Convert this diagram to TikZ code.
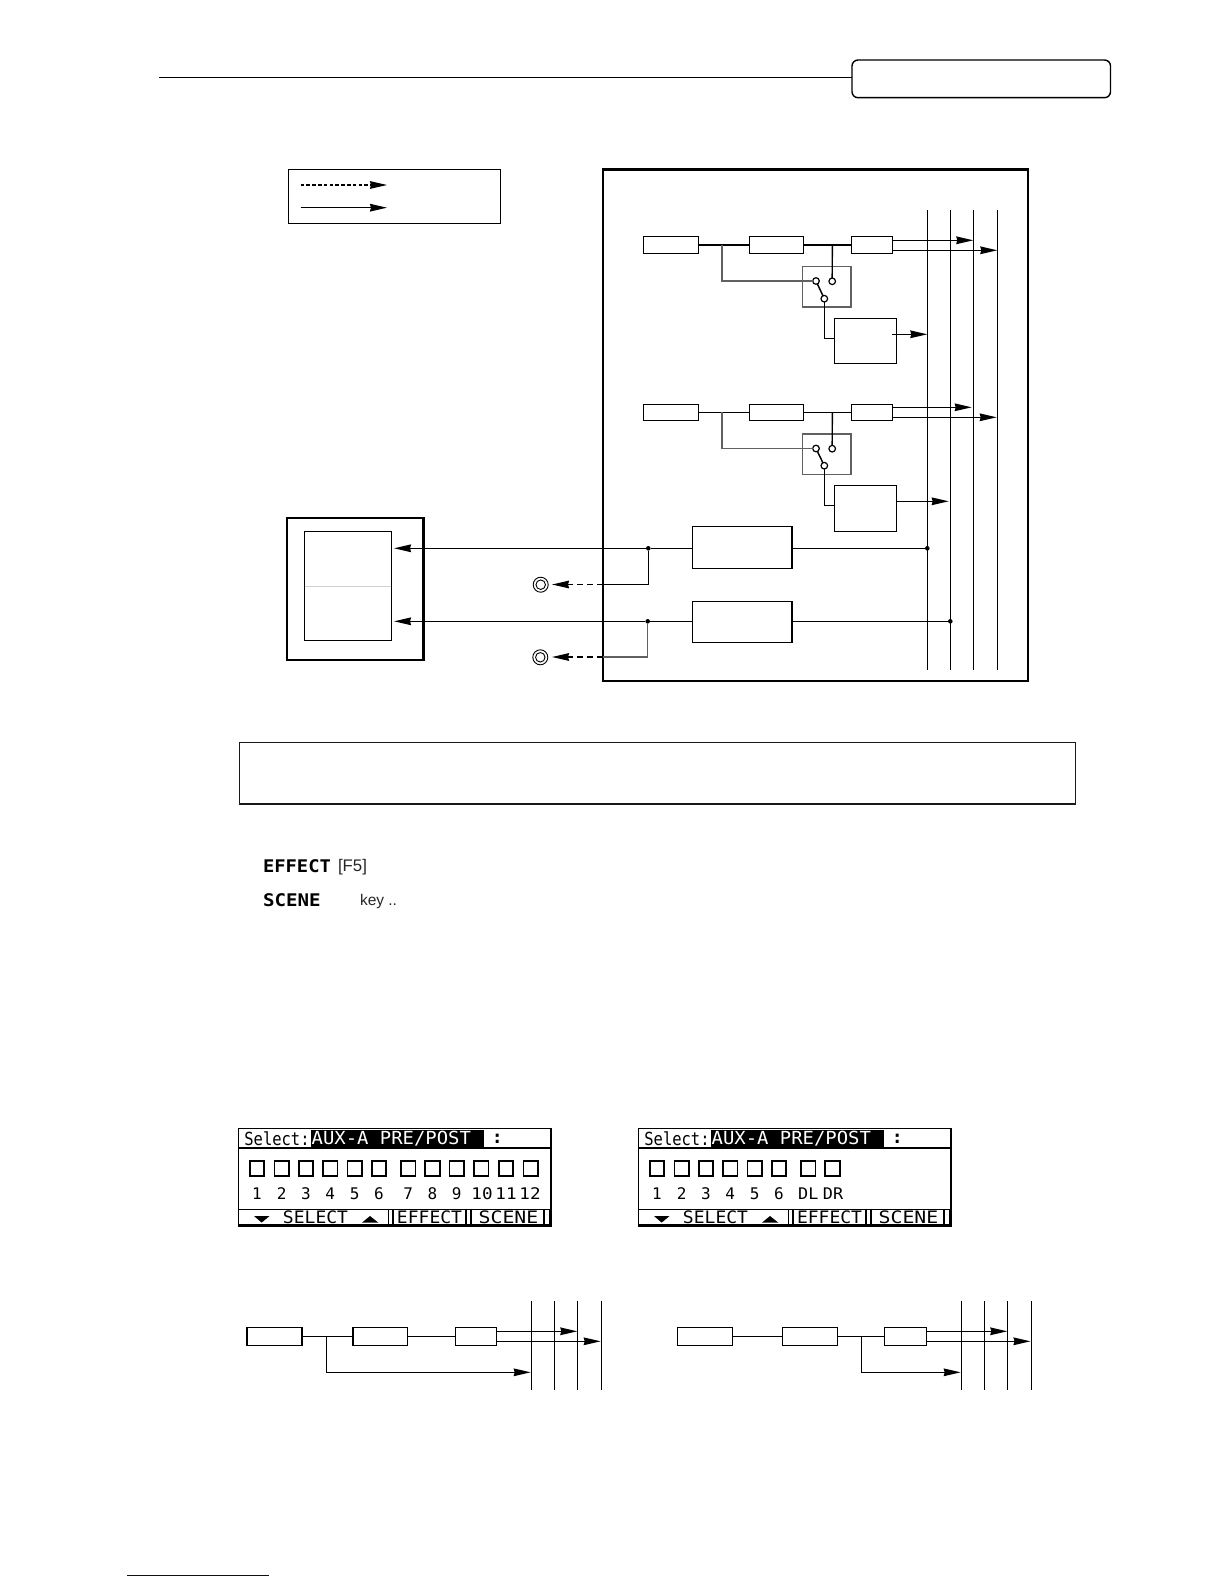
\documentclass[tikz,border=0pt]{standalone}
\usepackage{fontspec}
\usepackage{graphicx}
\setmainfont{Liberation Sans}
\newfontfamily\lcdfont{DejaVu Sans Mono}
\usetikzlibrary{arrows.meta}
\tikzset{
  px/.style={x=1pt,y=-1pt},
  wire/.style={line width=1.45pt,black},
  thinbus/.style={line width=1.25pt,black},
  graywire/.style={line width=1.5pt,black!62},
  arrowed/.style={wire,-{Stealth[length=17pt,width=7.6pt,inset=1pt]}},
  dasharrow/.style={arrowed,dash pattern=on 6pt off 4pt},
  legdash/.style={arrowed,line width=1.2pt,dash pattern=on 3.5pt off 2.3pt},
  blk/.style={draw=black,line width=1.4pt,fill=white,inner sep=0pt,outer sep=0pt},
  swbox/.style={draw=black!62,line width=1.5pt,fill=white,inner sep=0pt,outer sep=0pt},
  frameA/.style={draw=black,line width=2.4pt,inner sep=0pt,outer sep=0pt},
  terminal/.style={circle,draw=black,line width=1.2pt,fill=white,minimum size=6.6pt,inner sep=0pt,outer sep=0pt},
  junction/.style={circle,fill=black,minimum size=4.6pt,inner sep=0pt,outer sep=0pt},
  lcdtext/.style={font=\lcdfont\fontsize{18}{18}\selectfont,inner sep=0pt,outer sep=0pt,anchor=center},
  lcdnum/.style={font=\lcdfont\fontsize{16}{16}\selectfont,inner sep=0pt,outer sep=0pt,anchor=center},
  sq/.style={draw=black,line width=1.6pt,fill=white,minimum width=14.5pt,minimum height=15pt,inner sep=0pt,outer sep=0pt},
  keylabel/.style={font=\lcdfont\bfseries\fontsize{17.4}{17.4}\selectfont,inner sep=0pt,outer sep=0pt,anchor=west},
  plain/.style={font=\fontsize{15.5}{15.5}\selectfont,text=black!85,inner sep=0pt,outer sep=0pt,anchor=west},
}
% box by corners: name, x1, y1, x2, y2, style
\newcommand\cornerbox[6]{%
  \pgfmathsetmacro\bxw{#4-#2}\pgfmathsetmacro\bxh{#5-#3}%
  \pgfmathsetmacro\bxx{(#2+#4)/2}\pgfmathsetmacro\bxy{(#3+#5)/2}%
  \node[#6,minimum width=\bxw pt,minimum height=\bxh pt] (#1) at (\bxx,\bxy) {};}
% channel chain with switch
\newcommand\chainrow[6]{% prefix, boxtop, boxbot, wirey, swtop, swbot
  \cornerbox{#1a}{643.3}{#2}{698.7}{#3}{blk}
  \cornerbox{#1b}{749.3}{#2}{803.7}{#3}{blk}
  \cornerbox{#1c}{851.3}{#2}{892.7}{#3}{blk}
  \cornerbox{#1s}{802.7}{#5}{851}{#6}{swbox}
  \coordinate (#1t) at (722,#4);
  \coordinate (#1u) at (832.3,#4);
  \draw[wire] (#1a.east) -- (#1b.west);
  \draw[wire] (#1b.east) -- (#1c.west);
}
% LCD panel
\newcommand\lcdpanel[2]{%
  \begin{scope}[shift={(#1,0)},name prefix=#2]
    \cornerbox{frame}{238.3}{1128.3}{550.7}{1226.3}{draw=black,line width=1.6pt,fill=white,inner sep=0pt,outer sep=0pt}
    \cornerbox{sel}{311}{1129.5}{484.3}{1147}{fill=black,inner sep=0pt,outer sep=0pt}
    \draw[line width=1.3pt] (frame.west |- 0,1148) -- (frame.east |- 0,1148);
    \node[lcdtext] (t1) at (277,1138.5) {\scalebox{.86}[1]{Select:}};
    \node[lcdtext,text=white] (t2) at (391.3,1138.5) {\scalebox{1.05}[1]{AUX-A PRE/POST}};
    \node[lcdtext,font=\lcdfont\bfseries\fontsize{18}{18}\selectfont] (t3) at (497.3,1138.5) {:};
    \foreach \cx [count=\i] in {257,281.7,306,330.3,354.8,379,408.2,432.5}{
      \node[sq] (s\i) at (\cx,1168.7) {};
    }
    % function key bar
    \draw[line width=1.2pt] (frame.west |- 0,1209.7) -- (frame.east |- 0,1209.7);
    \cornerbox{bar}{238.3}{1224.3}{550.7}{1226.3}{fill=black,inner sep=0pt,outer sep=0pt}
    \foreach \vx in {388.5,393,466,471,544,550}{
      \draw[line width=1.2pt] (\vx,1209.7) -- (\vx,1225);
    }
    \node[lcdtext] (k1t) at (315.5,1217.5) {\scalebox{1.0}[.95]{SELECT}};
    \node[lcdtext] (k2t) at (429.5,1217.5) {\scalebox{1.0}[.95]{EFFECT}};
    \node[lcdtext] (k3t) at (508.5,1217.5) {\scalebox{1.1}[.95]{SCENE}};
    \fill (254,1216) -- (269.5,1216) -- (261.7,1222.6) -- cycle;
    \fill (362,1222.6) -- (378.3,1222.6) -- (370,1216) -- cycle;
  \end{scope}}
\begin{document}
\begin{tikzpicture}[px]
\useasboundingbox (0,0) rectangle (1224,1584);
\fill[white] (0,0) rectangle (1224,1584);

% header
\cornerbox{tab}{852}{60}{1110.5}{97.7}{blk,rounded corners=6pt}
\coordinate (ruleL) at (158.8,77.3);
\draw[wire] (ruleL) -- (ruleL -| tab.west);

% legend
\cornerbox{legend}{288.5}{169.3}{500.5}{223.7}{blk}
\coordinate (la) at (300.6,185); \coordinate (lb) at (387,185);
\coordinate (lc) at (300.6,207.7); \coordinate (ld) at (387,207.7);
\draw[legdash] (la) -- (lb);
\draw[arrowed] (lc) -- (ld);

% main frame
\cornerbox{mix}{602.7}{169.3}{1028}{681}{frameA}

% buses
\foreach \n/\bx in {1/927.3,2/950.3,3/973.3,4/997.3}{
  \coordinate (bus\n t) at (\bx,210);
  \coordinate (bus\n b) at (\bx,670);
}

% channel rows
\chainrow{r1}{236.3}{253.3}{244.8}{266.7}{307}
\chainrow{r2}{404.3}{420.3}{412.3}{434}{474.3}
\node[terminal] (c1l) at (816,281) {};
\node[terminal] (c1r) at (832.2,281.3) {};
\node[terminal] (c1m) at (824.3,298.7) {};
\node[terminal] (c2l) at (816,448.5) {};
\node[terminal] (c2r) at (832.2,448.7) {};
\node[terminal] (c2m) at (824.3,465.7) {};
\draw[graywire] (r1t) |- (c1l.west);
\draw[wire] (r1u) -- (c1r.north);
\draw[wire] (c1l) -- (c1m);
\draw[graywire] (r2t) |- (c2l.west);
\draw[wire] (r2u) -- (c2r.north);
\draw[wire] (c2l) -- (c2m);

\cornerbox{d1}{834.3}{318.3}{896.7}{363.7}{blk}
\cornerbox{d2}{834.3}{485.3}{896.7}{531.3}{blk}
\draw[wire] (c1m.south) |- (d1.west |- 0,338.3);
\draw[wire] (c2m.south) |- (d2.west |- 0,505.7);

% buses drawn
\foreach \n in {1,2,3,4}{ \draw[thinbus] (bus\n t) -- (bus\n b); }

% channel to bus arrows
\coordinate (a1) at (892.7,240.3); \coordinate (a1e) at (973.3,240.3);
\coordinate (a2) at (892.7,250.3); \coordinate (a2e) at (997.3,250.3);
\coordinate (a3) at (892.7,407.3); \coordinate (a3e) at (971.7,407.3);
\coordinate (a4) at (892.7,417.3); \coordinate (a4e) at (996.7,417.3);
\draw[arrowed] (a1) -- (a1e);
\draw[arrowed] (a2) -- (a2e);
\draw[arrowed] (a3) -- (a3e);
\draw[arrowed] (a4) -- (a4e);
\coordinate (a5) at (892,334.3); \coordinate (a5e) at (927.3,334.3);
\coordinate (a6) at (896.7,501.3); \coordinate (a6e) at (948.7,501.3);
\draw[arrowed] (a5) -- (a5e);
\draw[arrowed] (a6) -- (a6e);

% master section
\cornerbox{e1}{692.3}{526.3}{792}{568.3}{blk}
\cornerbox{e2}{692.3}{601.3}{792}{642.3}{blk}
\node[junction] (j1) at (927.3,548.3) {};
\node[junction] (j2) at (950.3,621.3) {};
\node[junction] (j3) at (648.3,548.3) {};
\node[junction] (j4) at (647.7,621.3) {};
\draw[wire] (e1.east |- j1) -- (j1);
\draw[wire] (e2.east |- j2) -- (j2);

% recorder
\cornerbox{rec}{286.7}{517.7}{423.3}{660}{frameA}
\cornerbox{trk}{304.3}{531.3}{391.7}{640.7}{blk}
\coordinate (trkA) at (305,586.3); \coordinate (trkB) at (391,586.3);
\draw[line width=.7pt,black!18] (trkA) -- (trkB);
\coordinate (ra) at (394,548.3);
\coordinate (rb) at (394,621.3);
\draw[wire] (e1.west |- j3) -- (j3);
\draw[wire] (e2.west |- j4) -- (j4);
\draw[arrowed] (j3) -- (ra);
\draw[arrowed] (j4) -- (rb);

% jacks
\node[circle,draw=black,line width=.9pt,minimum size=15pt,inner sep=0pt] (jk1) at (540.7,584.7) {};
\node[circle,draw=black,line width=.9pt,minimum size=9.5pt,inner sep=0pt] (jk1i) at (540.7,584.7) {};
\node[circle,draw=black,line width=.9pt,minimum size=15pt,inner sep=0pt] (jk2) at (540.3,657.3) {};
\node[circle,draw=black,line width=.9pt,minimum size=9.5pt,inner sep=0pt] (jk2i) at (540.3,657.3) {};
\coordinate (p1) at (603,584.5); \coordinate (p1e) at (552,584.5);
\coordinate (p2) at (603,657); \coordinate (p2e) at (552,657);
\draw[wire] (j3) |- (p1);
\draw[graywire] (j4) |- (p2);
\draw[dasharrow] (p1) -- (p1e);
\draw[dasharrow] (p2) -- (p2e);

% note box
\cornerbox{note}{239.4}{742.4}{1075.6}{804}{draw=black!90,line width=1.7pt,inner sep=0pt,outer sep=0pt}

% key labels
\node[keylabel] (effect) at (263,866.3) {\scalebox{1.08}[1]{EFFECT}};
\node[plain,font=\fontsize{16.8}{16.8}\selectfont] (f5) at (338,867.3) {[F5]};
\node[keylabel] (scene) at (263,900.3) {\scalebox{1.1}[1]{SCENE}};
\node[plain] (keytxt) at (360,901.5) {key ..};

% LCD panels
\lcdpanel{0}{L}
\lcdpanel{400}{R}
\foreach \cx [count=\i from 9] in {456.8,481.3,506,530.7}{
  \node[sq] (Ls\i) at (\cx,1168.7) {};
}
\foreach \cx/\lab [count=\i] in {257/1,281.7/2,306/3,330.3/4,354.8/5,379/6,408.2/7,432.5/8,456.8/9}{
  \node[lcdnum] (Ln\i) at (\cx,1193.3) {\lab};
}
\foreach \cx/\lab [count=\i from 10] in {482/10,506/11,530/12}{
  \node[lcdnum] (Ln\i) at (\cx,1193.3) {\scalebox{1.1}[1]{\lab}};
}
\foreach \cx/\lab [count=\i] in {657/1,681.7/2,706/3,730.3/4,754.8/5,779/6}{
  \node[lcdnum] (Rn\i) at (\cx,1193.3) {\lab};
}
\node[lcdnum] (Rn7) at (808.3,1193.3) {\scalebox{1.05}[1]{DL}};
\node[lcdnum] (Rn8) at (833,1193.3) {\scalebox{1.05}[1]{DR}};

% bottom left routing
\cornerbox{pa}{247}{1327.3}{302}{1345.3}{blk}
\cornerbox{pb}{353}{1327.3}{407.5}{1345.3}{blk}
\cornerbox{pc}{455.5}{1327.3}{496.5}{1345.3}{blk}
\draw[wire] (pa.east) -- (pb.west);
\draw[wire] (pb.east) -- (pc.west);
\foreach \n/\bx in {1/531.3,2/554.3,3/577.3,4/601.3}{
  \coordinate (pbus\n t) at (\bx,1301);
  \coordinate (pbus\n b) at (\bx,1390);
  \draw[thinbus] (pbus\n t) -- (pbus\n b);
}
\coordinate (ptap) at (326.3,1336.3);
\coordinate (ptape) at (530.7,1372.3);
\draw[arrowed] (ptap) |- (ptape);
\coordinate (pc1) at (496.5,1331.3); \coordinate (pc1e) at (577.3,1331.3);
\coordinate (pc2) at (496.5,1341.3); \coordinate (pc2e) at (600.7,1341.3);
\draw[arrowed] (pc1) -- (pc1e);
\draw[arrowed] (pc2) -- (pc2e);

% bottom right routing
\cornerbox{qa}{677.3}{1327.3}{732.7}{1345.3}{blk}
\cornerbox{qb}{782.3}{1327.3}{837.7}{1345.3}{blk}
\cornerbox{qc}{884.3}{1327.3}{926.3}{1345.3}{blk}
\draw[wire] (qa.east) -- (qb.west);
\draw[wire] (qb.east) -- (qc.west);
\foreach \n/\bx in {1/961.3,2/984.3,3/1007.3,4/1031.3}{
  \coordinate (qbus\n t) at (\bx,1301);
  \coordinate (qbus\n b) at (\bx,1390);
  \draw[thinbus] (qbus\n t) -- (qbus\n b);
}
\coordinate (qtap) at (861.3,1336.3);
\coordinate (qtape) at (960.7,1372.3);
\draw[arrowed] (qtap) |- (qtape);
\coordinate (qc1) at (926.3,1331.3); \coordinate (qc1e) at (1007.3,1331.3);
\coordinate (qc2) at (926.3,1341.3); \coordinate (qc2e) at (1030.5,1341.3);
\draw[arrowed] (qc1) -- (qc1e);
\draw[arrowed] (qc2) -- (qc2e);

% link underline at page foot
\coordinate (uA) at (127,1575.3); \coordinate (uB) at (269,1575.3);
\draw[line width=1pt,blue!55!black] (uA) -- (uB);
\end{tikzpicture}
\end{document}
